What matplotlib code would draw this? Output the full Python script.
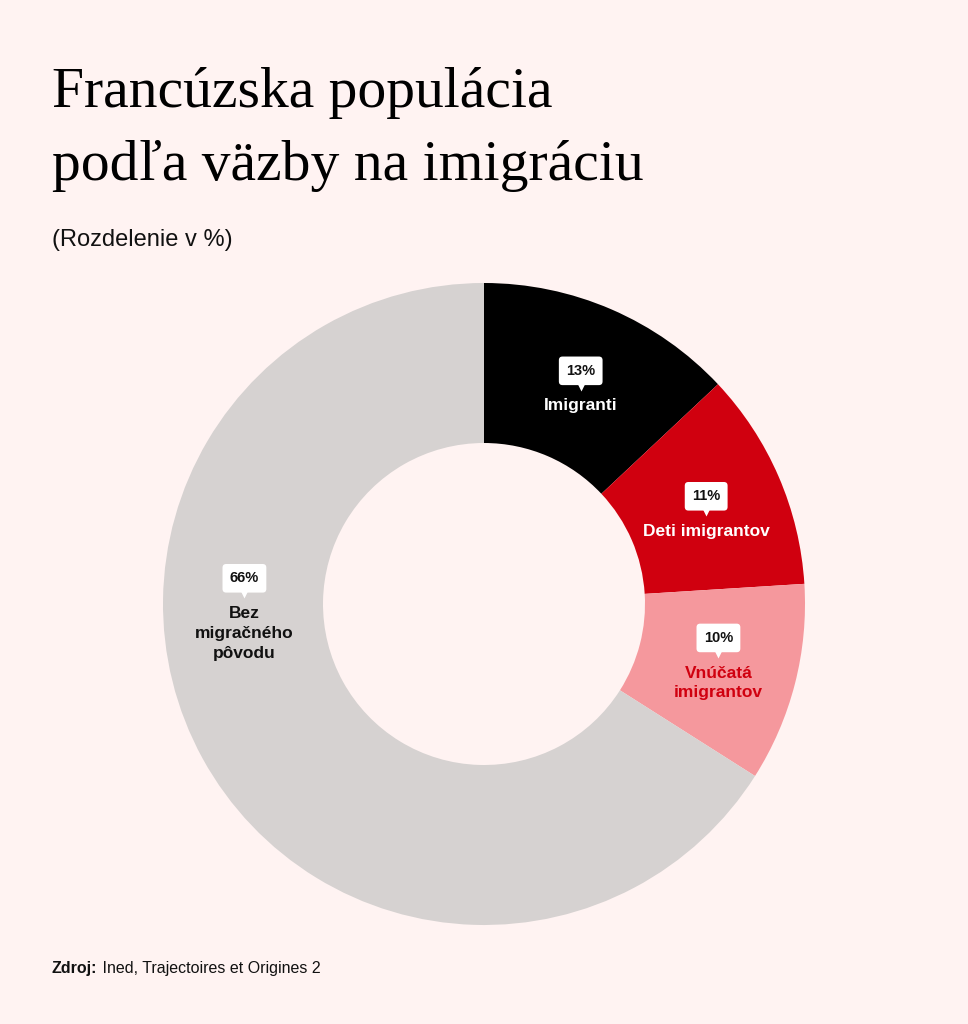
import numpy as np
import matplotlib.pyplot as plt

categories = ["Imigranti", "Deti imigrantov", "Vnúčatá\nimigrantov", "Bez\nmigračného\npôvodu"]
shares = [13, 11, 10, 66]
pct_labels = ["13%", "11%", "10%", "66%"]

colors = ["#000000", "#D0000F", "#F5989D", "#D6D2D1"]
text_colors = ["white", "white", "#D0000F", "#111111"]
BG = "#FFF3F2"

W, H = 968, 1024
fig = plt.figure(figsize=(W / 100, H / 100), dpi=100, facecolor=BG)
ax = fig.add_axes([0, 0, 1, 1])
ax.set_facecolor(BG)


def Y(py):
    return H - py


cx, cy = 484, Y(604)
r_out, ring = 321, 160

ax.pie(shares, colors=colors, startangle=90, counterclock=False,
       center=(cx, cy), radius=r_out,
       wedgeprops=dict(width=ring, linewidth=0))
ax.set_xlim(0, W)
ax.set_ylim(0, H)
ax.set_aspect("equal")
ax.axis("off")

# label anchor angles: mid of slice, except the big grey one
cum = np.cumsum([0] + shares)
mids = [90 - (cum[i] + shares[i] / 2) * 3.6 for i in range(len(shares))]
mids[3] = 183.4
r_lab = r_out - ring / 2
pitch = 20  # px between label lines

sans = ["Liberation Sans", "DejaVu Sans"]
for i, cat in enumerate(categories):
    a = np.radians(mids[i])
    x = cx + r_lab * np.cos(a) + 1
    y = cy + r_lab * np.sin(a)
    n = cat.count("\n") + 1
    top = y - 23 + 14 * (n - 1)  # centre of first text line
    by = top + 35
    ax.text(x, by, pct_labels[i], ha="center", va="center", fontsize=10.5,
            fontweight="bold", family=sans, color="#111111",
            bbox=dict(boxstyle="round,pad=0.5,rounding_size=0.25",
                      fc="white", ec="none"))
    ax.plot(x, by - 14, marker="v", ms=8, color="white", mec="none")
    ax.text(x, top - pitch / 2 * (n - 1), cat, ha="center", va="center",
            fontsize=12.5, fontweight="bold", family=sans,
            color=text_colors[i], linespacing=1.4)

serif = ["Liberation Serif", "DejaVu Serif"]
ax.text(52, Y(107), "Francúzska populácia", fontsize=41.5, family=serif,
        color="black", va="baseline")
ax.text(52, Y(180), "podľa väzby na imigráciu", fontsize=41.5, family=serif,
        color="black", va="baseline")
ax.text(52, Y(240), "(Rozdelenie v %)", fontsize=17, family=sans,
        color="#111111", va="center")

src = ax.text(52, Y(968), "Zdroj:", fontsize=11.5, fontweight="bold",
              family=sans, color="#111111", va="center")
ax.annotate(" Ined, Trajectoires et Origines 2", xycoords=src,
            xy=(1, 0.5), va="center", fontsize=11.5, family=sans,
            color="#111111")

fig.savefig("out.png", dpi=100, facecolor=BG)
